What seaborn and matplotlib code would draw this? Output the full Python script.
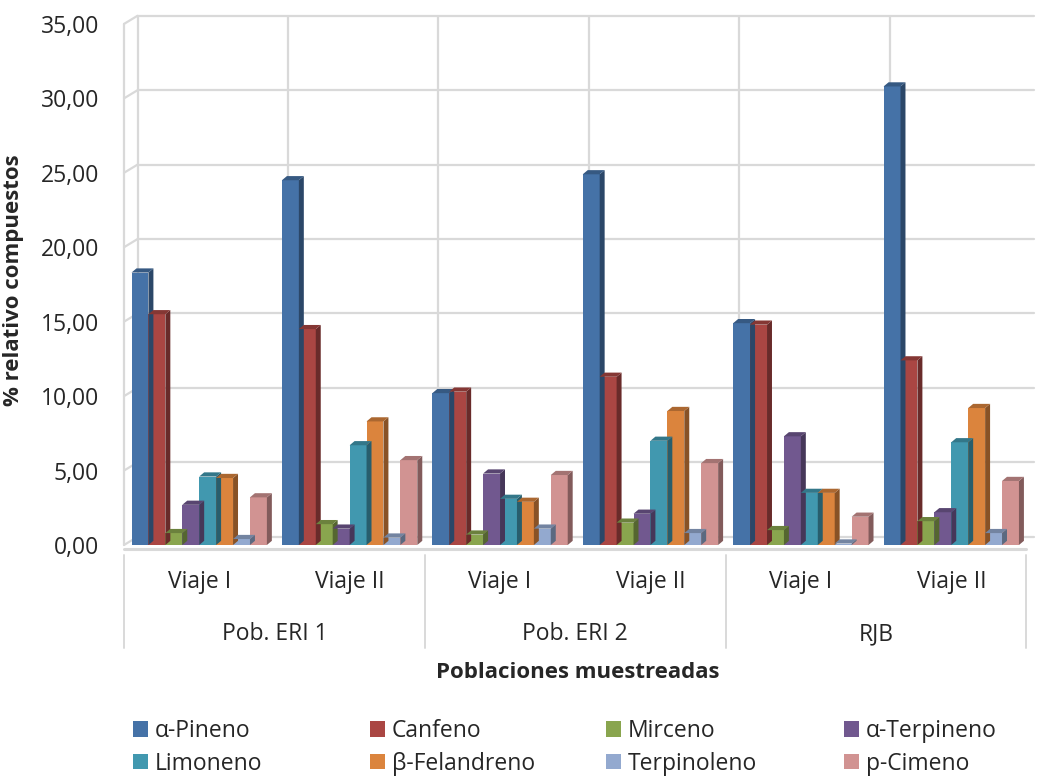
import numpy as np
import pandas as pd
import matplotlib
matplotlib.use("Agg")
import matplotlib.pyplot as plt
import seaborn as sns
from matplotlib.patches import Polygon, Patch
from matplotlib.colors import to_rgb

# -------------------- DATA --------------------
poblaciones = ["Pob. ERI 1", "Pob. ERI 2", "RJB"]
viajes = ["Viaje I", "Viaje II"]
compuestos = ["α-Pineno", "Canfeno", "Mirceno", "α-Terpineno",
              "Limoneno", "β-Felandreno", "Terpinoleno", "p-Cimeno"]

# orden: ERI1-I, ERI1-II, ERI2-I, ERI2-II, RJB-I, RJB-II
a_pineno = [18.3, 24.5, 10.2, 24.9, 14.9, 30.8]
canfeno = [15.5, 14.5, 10.3, 11.3, 14.8, 12.4]
mirceno = [0.8, 1.4, 0.7, 1.5, 1.0, 1.6]
a_terpineno = [2.7, 1.1, 4.8, 2.1, 7.3, 2.2]
limoneno = [4.6, 6.7, 3.1, 7.0, 3.5, 6.9]
b_felandreno = [4.5, 8.3, 2.9, 9.0, 3.5, 9.2]
terpinoleno = [0.4, 0.5, 1.1, 0.8, 0.1, 0.8]
p_cimeno = [3.2, 5.7, 4.7, 5.5, 1.9, 4.3]

colores = ["#4572A7", "#AA4643", "#89A54E", "#71588F",
           "#4198AF", "#DB843D", "#93A9CF", "#D19392"]

series = [a_pineno, canfeno, mirceno, a_terpineno,
          limoneno, b_felandreno, terpinoleno, p_cimeno]
muestras = [f"{p}|{v}" for p in poblaciones for v in viajes]

rows = []
for comp, vals in zip(compuestos, series):
    for m, val in zip(muestras, vals):
        rows.append({"muestra": m, "compuesto": comp, "valor": val})
df = pd.DataFrame(rows)

# -------------------- PLOT --------------------
sns.set_theme(style="white")
plt.rcParams["font.family"] = ["Open Sans", "DejaVu Sans"]
fs = 16.5

fig = plt.figure(figsize=(10.38, 7.8), dpi=100)
ax = fig.add_axes([124 / 1038, 1 - 545 / 780, 910 / 1038, 530 / 780])

sns.barplot(data=df, x="muestra", y="valor", hue="compuesto", order=muestras,
            hue_order=compuestos, palette=colores, width=0.9, gap=0,
            saturation=1, errorbar=None, legend=False, ax=ax, zorder=3,
            linewidth=0)

ymax = 35.6
ax.set_ylim(0, ymax)
ax.set_xlim(-0.5, 5.55)

# pseudo 3D faces for each bar
dx, dy = 0.033, 0.28
for bar in list(ax.patches):
    x, w, h = bar.get_x(), bar.get_width(), bar.get_height()
    c = np.array(to_rgb(bar.get_facecolor()))
    side = Polygon([(x + w, 0), (x + w + dx, dy), (x + w + dx, h + dy), (x + w, h)],
                   closed=True, facecolor=c * 0.62, edgecolor="none", zorder=3)
    top = Polygon([(x, h), (x + dx, h + dy), (x + w + dx, h + dy), (x + w, h)],
                  closed=True, facecolor=c * 0.78, edgecolor="none", zorder=3)
    ax.add_patch(side)
    ax.add_patch(top)

# back wall grid
gris = "#D9D9D9"
wx, wy = 0.09, 0.55
for v in range(0, 36, 5):
    ax.plot([-0.5, -0.5 + wx], [v, v + wy], color=gris, lw=1.6, zorder=1, clip_on=False)
    ax.plot([-0.5 + wx, 5.55], [v + wy, v + wy], color=gris, lw=1.6, zorder=1, clip_on=False)
for k in range(7):
    ax.plot([k - 0.5 + wx] * 2, [wy, 35 + wy], color=gris, lw=1.6, zorder=1)
ax.plot([-0.5, -0.5], [0, 35], color=gris, lw=1.6, zorder=1, clip_on=False)
ax.plot([-0.5, 5.5], [-0.25, -0.25], color=gris, lw=2.2, zorder=4, clip_on=False)

for s in ax.spines.values():
    s.set_visible(False)

ax.set_yticks(range(0, 36, 5))
ax.set_yticklabels([f"{v:.2f}".replace(".", ",") for v in range(0, 36, 5)], fontsize=fs)
ax.tick_params(axis="y", length=0, pad=18)
ax.set_xticks([])
ax.set_xlabel("")
ax.set_ylabel("% relativo compuestos", fontsize=16, fontweight="bold", labelpad=12)

# two level category axis
tr = ax.get_xaxis_transform()
for i, m in enumerate(muestras):
    ax.text(i, -0.070, m.split("|")[1], transform=tr, ha="center", va="center", fontsize=fs)
for j, p in enumerate(poblaciones):
    ax.text(2 * j + 0.5, -0.168, p, transform=tr, ha="center", va="center", fontsize=fs)
for xs in [-0.5, 1.5, 3.5, 5.5]:
    ax.plot([xs, xs], [-0.019, -0.194], transform=tr, color=gris, lw=1.4, clip_on=False)

fig.text(578 / 1038, 1 - 672 / 780, "Poblaciones muestreadas", ha="center", va="center",
         fontsize=16, fontweight="bold")

# legend in 4 columns, 2 rows
col_x = [133, 370, 606, 844]
for c in range(4):
    idx = [c, c + 4]
    handles = [Patch(facecolor=colores[i], edgecolor="none") for i in idx]
    labels = [compuestos[i] for i in idx]
    fig.legend(handles, labels, loc="upper left",
               bbox_to_anchor=(col_x[c] / 1038, 1 - 719 / 780),
               frameon=False, fontsize=fs, handlelength=0.65, handleheight=0.65,
               handletextpad=0.3, labelspacing=0.38, borderaxespad=0, borderpad=0)

fig.savefig("out.png", dpi=100)
